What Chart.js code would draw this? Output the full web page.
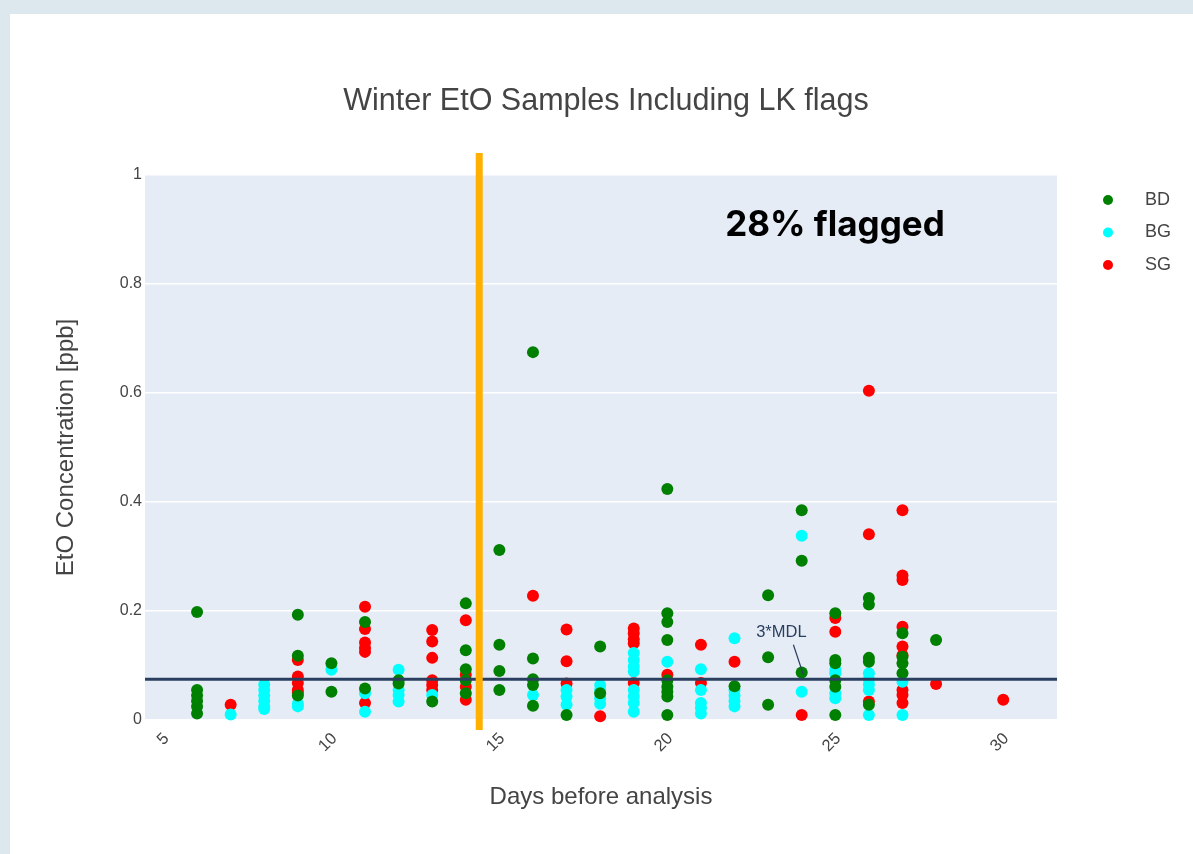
<!DOCTYPE html>
<html>
<head>
<meta charset="utf-8">
<script src="https://cdn.jsdelivr.net/npm/chart.js@4.4.1/dist/chart.umd.min.js"></script>
<style>
  body { margin: 0; background: #dce8ee; }
  #card { position: absolute; left: 10px; top: 14px; width: 1183px; height: 840px; background: #fff; }
  canvas { display: block; }
</style>
</head>
<body>
<div id="card"><canvas id="myChart" width="1183" height="840"></canvas></div>
<script>
// days before analysis / EtO concentration (ppb)
const bdDays = [6,6,6,6,6,6, 9,9,9, 10,10, 11,11, 12,12, 13, 14,14,14,14,14, 15,15,15,15,
  16,16,16,16,16, 17, 18,18, 20,20,20,20,20,20,20,20,20, 22, 23,23,23, 24,24,24,
  25,25,25,25,25,25, 26,26,26,26,26, 27,27,27,27, 28];
const bdVals = [0.198,0.055,0.045,0.035,0.025,0.012, 0.193,0.118,0.045, 0.104,0.052, 0.18,0.058,
  0.073,0.067, 0.034, 0.214,0.128,0.093,0.073,0.049, 0.312,0.138,0.09,0.055,
  0.675,0.113,0.075,0.064,0.026, 0.009, 0.135,0.049,
  0.424,0.196,0.18,0.147,0.073,0.061,0.052,0.043,0.009, 0.062, 0.229,0.115,0.028,
  0.385,0.292,0.087, 0.196,0.11,0.104,0.073,0.061,0.009, 0.224,0.212,0.114,0.107,0.028,
  0.159,0.116,0.104,0.086, 0.147];

const bgDays = [7, 8,8,8,8,8,8, 9,9, 10, 11,11, 12,12,12,12, 13, 16, 17,17,17, 18,18,18,18,
  19,19,19,19,19,19,19,19, 20, 21,21,21,21,21, 22,22,22,22,22, 24,24, 25,25,25,25,
  26,26,26,26,26, 27,27];
const bgVals = [0.01, 0.065,0.055,0.045,0.035,0.025,0.02, 0.03,0.025, 0.092, 0.049,0.015,
  0.092,0.055,0.046,0.034, 0.046, 0.046, 0.055,0.043,0.028, 0.064,0.055,0.04,0.03,
  0.123,0.11,0.098,0.089,0.055,0.043,0.031,0.015, 0.107, 0.093,0.055,0.031,0.022,0.012,
  0.15,0.055,0.045,0.035,0.025, 0.338,0.052, 0.092,0.086,0.049,0.04,
  0.086,0.075,0.065,0.055,0.009, 0.07,0.009];

const sgDays = [7, 9,9,9,9,9, 11,11,11,11,11,11, 13,13,13,13,13,13, 14,14,14,14, 16, 17,17,17,
  18, 19,19,19,19,19, 20, 21,21, 22, 24, 25,25, 26,26,26, 27,27,27,27,27,27,27,27,27, 28, 30];
const sgVals = [0.028, 0.11,0.08,0.068,0.055,0.05, 0.208,0.167,0.142,0.132,0.125,0.031,
  0.165,0.144,0.114,0.073,0.064,0.055, 0.183,0.083,0.061,0.037, 0.228, 0.166,0.108,0.067,
  0.007, 0.168,0.159,0.148,0.141,0.068, 0.083, 0.138,0.068, 0.107, 0.009, 0.187,0.162,
  0.604,0.341,0.034, 0.385,0.265,0.257,0.171,0.135,0.119,0.055,0.046,0.031, 0.066, 0.037];

const seriesNames = ['BD', 'BG', 'SG'];
const seriesColors = ['green', 'cyan', 'red'];
const xTicks = [5, 10, 15, 20, 25, 30];
const yTicks = [0, 0.2, 0.4, 0.6, 0.8, 1];
const mdl = 0.075;        // 3*MDL level
const cutoffDay = 14.4;   // orange line

function pts(days, vals) {
  return days.map((d, i) => ({ x: d, y: vals[i] }));
}

const font = "'Liberation Sans', Arial, sans-serif";

const overlay = {
  id: 'overlay',
  beforeDraw(chart) {
    const { ctx, chartArea: a } = chart;
    ctx.save();
    ctx.fillStyle = '#e5ecf6';
    ctx.fillRect(a.left, a.top, a.right - a.left, a.bottom - a.top);
    // title
    ctx.fillStyle = '#444';
    ctx.font = '30.5px ' + font;
    ctx.textAlign = 'center';
    ctx.textBaseline = 'middle';
    ctx.fillText('Winter EtO Samples Including LK flags', 596, 88);
    ctx.restore();
  },
  afterDatasetsDraw(chart) {
    const { ctx, chartArea: a, scales: { x, y } } = chart;
    ctx.save();
    // 3*MDL line
    ctx.strokeStyle = '#2a3f5f';
    ctx.lineWidth = 3;
    ctx.beginPath();
    ctx.moveTo(a.left, y.getPixelForValue(mdl));
    ctx.lineTo(a.right, y.getPixelForValue(mdl));
    ctx.stroke();

    // cutoff line
    const cx = x.getPixelForValue(cutoffDay);
    ctx.strokeStyle = '#ffb000';
    ctx.lineWidth = 7;
    ctx.beginPath();
    ctx.moveTo(cx, a.top - 22);
    ctx.lineTo(cx, a.bottom + 10);
    ctx.stroke();

    // 3*MDL annotation
    const tx = x.getPixelForValue(24.05), ty = y.getPixelForValue(0.083);
    ctx.strokeStyle = '#2a3f5f';
    ctx.lineWidth = 1.2;
    ctx.beginPath();
    ctx.moveTo(tx - 10, ty - 30);
    ctx.lineTo(tx, ty);
    ctx.stroke();
    ctx.fillStyle = '#2a3f5f';
    ctx.font = '16.5px ' + font;
    ctx.textAlign = 'center';
    ctx.textBaseline = 'middle';
    ctx.fillText('3*MDL', tx - 22, ty - 42);

    // flagged note
    ctx.fillStyle = '#000';
    ctx.font = "bold 35px Inter, 'Noto Sans', sans-serif";
    ctx.fillText('28% flagged', x.getPixelForValue(24.99), y.getPixelForValue(0.907));

    // legend
    ctx.textAlign = 'left';
    ctx.font = '18px ' + font;
    seriesNames.forEach((n, i) => {
      const ly = 186 + i * 32.5;
      ctx.fillStyle = seriesColors[i];
      ctx.beginPath();
      ctx.arc(1098, ly, 5, 0, Math.PI * 2);
      ctx.fill();
      ctx.fillStyle = '#444';
      ctx.fillText(n, 1135, ly);
    });
    ctx.restore();
  }
};

const ctx = document.getElementById('myChart').getContext('2d');
const myChart = new Chart(ctx, {
  type: 'scatter',
  data: {
    datasets: [
      { label: seriesNames[0], data: pts(bdDays, bdVals), backgroundColor: seriesColors[0] },
      { label: seriesNames[1], data: pts(bgDays, bgVals), backgroundColor: seriesColors[1] },
      { label: seriesNames[2], data: pts(sgDays, sgVals), backgroundColor: seriesColors[2] }
    ]
  },
  options: {
    responsive: false,
    animation: false,
    clip: false,
    elements: { point: { radius: 6, borderWidth: 0, hoverRadius: 6 } },
    layout: { padding: { left: 0, top: 161, right: 136, bottom: 0 } },
    plugins: {
      legend: { display: false },
      tooltip: { enabled: false },
      title: { display: false }
    },
    scales: {
      x: {
        type: 'linear',
        min: 4.45,
        max: 31.6,
        afterFit: s => { s.height = 134; },
        afterBuildTicks: s => { s.ticks = xTicks.map(v => ({ value: v })); },
        grid: { display: false },
        border: { display: false },
        ticks: {
          color: '#444',
          font: { family: font, size: 16.5 },
          minRotation: 45,
          maxRotation: 45,
          labelOffset: 3,
          padding: 1
        },
        title: {
          display: true,
          text: 'Days before analysis',
          color: '#444',
          font: { family: font, size: 24 },
          padding: { top: 0, bottom: 42.6 }
        }
      },
      y: {
        min: 0,
        max: 1,
        afterFit: s => { s.width = 135; },
        afterBuildTicks: s => { s.ticks = yTicks.map(v => ({ value: v })); },
        grid: { color: '#fff', lineWidth: 1.5, drawTicks: false },
        border: { display: false },
        ticks: {
          color: '#444',
          font: { family: font, size: 16 },
          padding: 3,
          callback: v => String(v)
        },
        title: {
          display: true,
          text: 'EtO Concentration [ppb]',
          color: '#444',
          font: { family: font, size: 24 },
          padding: { top: 41.6, bottom: 0 }
        }
      }
    }
  },
  plugins: [overlay]
});
</script>
</body>
</html>
